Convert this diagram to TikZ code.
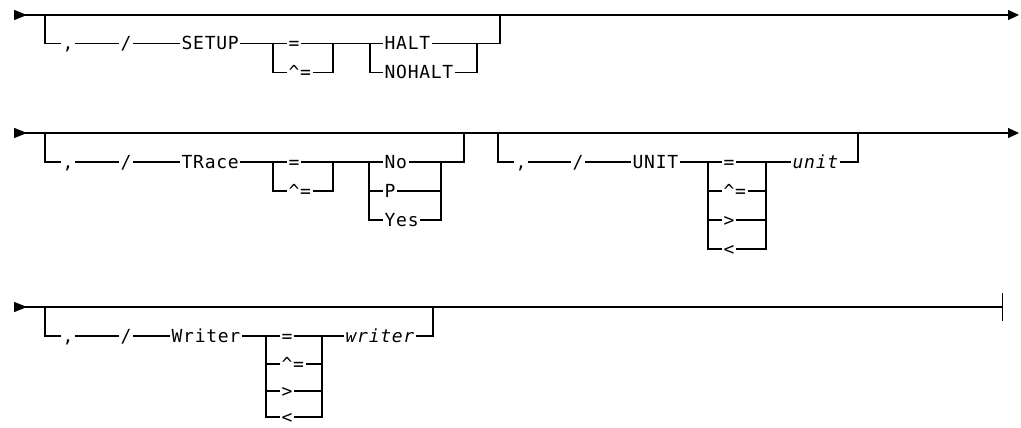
\documentclass[tikz,border=0pt]{standalone}
\usepackage{fontspec}
\newfontfamily\rrfont{DejaVu Sans Mono}[LetterSpace=4]
\usetikzlibrary{arrows.meta}

\begin{document}
\begin{tikzpicture}[
  x=1pt, y=-1pt, font=\rrfont\fontsize{18}{18}\selectfont,
  rail/.style ={draw,line width=1.1pt},
  row/.style  ={rail,{Triangle[reversed,length=13pt,width=10pt]}-{Triangle[length=11pt,width=10pt]}},
  last/.style ={rail,{Triangle[reversed,length=13pt,width=10pt]}-{Bar[width=28pt]}},
  tok/.style  ={inner xsep=1.5pt,inner ysep=0pt,text height=13pt,text depth=0pt,anchor=west},
  punct/.style={tok,anchor=center},
  var/.style  ={tok,font=\rrfont\fontsize{18}{18}\selectfont\itshape},
]
\useasboundingbox (0,0) rectangle (1021,428);

% ----------------------------------------------------------- SETUP
\coordinate (s1) at (14,15);
\coordinate (e1) at (1019,15);
\draw[row] (s1) -- (e1);
\coordinate (a1) at (45,15);
\node[punct] (cm1) at (68,43.5) {,};
\node[punct] (sl1) at (126,43.5) {/};
\node[tok] (kw1) at (180,43.5) {SETUP};
\coordinate (p1) at (273,43.5);
\coordinate (q1) at (333,43.5);
\node[tok] (o1a) at (287,43.5) {=};
\node[tok] (o1b) at (287,72.5) {\textasciicircum=};
\coordinate (u1) at (370,43.5);
\coordinate (v1) at (477,43.5);
\node[tok] (h1a) at (383,43.5) {HALT};
\node[tok] (h1b) at (383,72.5) {NOHALT};
\coordinate (z1) at (500,43.5);
\coordinate (w1) at (500,15);
\draw[rail] (a1) |- (cm1) -- (sl1) -- (kw1) -- (o1a) -- (h1a) -- (z1) -- (w1);
\draw[rail] (p1) |- (o1b) -| (q1);
\draw[rail] (u1) |- (h1b) -| (v1);

% ----------------------------------------------------------- TRace, UNIT
\coordinate (s2) at (14,133);
\coordinate (e2) at (1019,133);
\draw[row] (s2) -- (e2);
\coordinate (a2) at (45,133);
\node[punct] (cm2) at (68,162) {,};
\node[punct] (sl2) at (126,162) {/};
\node[tok] (kw2) at (180,162) {TRace};
\coordinate (p2) at (273,162);
\coordinate (q2) at (333,162);
\node[tok] (o2a) at (287,162) {=};
\node[tok] (o2b) at (287,191) {\textasciicircum=};
\coordinate (u2) at (369,162);
\coordinate (v2) at (441,162);
\node[tok] (n2a) at (383,162) {No};
\node[tok] (n2b) at (383,191) {P};
\node[tok] (n2c) at (383,220) {Yes};
\coordinate (z2) at (464,162);
\coordinate (w2) at (464,133);
\draw[rail] (a2) |- (cm2) -- (sl2) -- (kw2) -- (o2a) -- (n2a) -- (z2) -- (w2);
\draw[rail] (p2) |- (o2b) -| (q2);
\draw[rail] (u2) |- (n2c) -| (v2);
\draw[rail] (u2 |- n2b) -- (n2b) -- (v2 |- n2b);

\coordinate (a3) at (498,133);
\node[punct] (cm3) at (521,162) {,};
\node[punct] (sl3) at (578,162) {/};
\node[tok] (kw3) at (631,162) {UNIT};
\coordinate (p3) at (708,162);
\coordinate (q3) at (766,162);
\node[tok] (o3a) at (722,162) {=};
\node[tok] (o3b) at (722,191) {\textasciicircum=};
\node[tok] (o3c) at (722,220) {>};
\node[tok] (o3d) at (722,249) {<};
\node[var] (vr3) at (791,162) {unit};
\coordinate (z3) at (858,162);
\coordinate (w3) at (858,133);
\draw[rail] (a3) |- (cm3) -- (sl3) -- (kw3) -- (o3a) -- (vr3) -- (z3) -- (w3);
\draw[rail] (p3) |- (o3d) -| (q3);
\foreach \o in {o3b,o3c} { \draw[rail] (p3 |- \o) -- (\o) -- (q3 |- \o); }

% ----------------------------------------------------------- Writer
\coordinate (s4) at (14,307);
\coordinate (e4) at (1003,307);
\draw[last] (s4) -- (e4);
\coordinate (a4) at (45,307);
\node[punct] (cm4) at (68,336) {,};
\node[punct] (sl4) at (126,336) {/};
\node[tok] (kw4) at (170,336) {Writer};
\coordinate (p4) at (266,336);
\coordinate (q4) at (322,336);
\node[tok] (o4a) at (280,336) {=};
\node[tok] (o4b) at (280,364) {\textasciicircum=};
\node[tok] (o4c) at (280,391) {>};
\node[tok] (o4d) at (280,417) {<};
\node[var] (vr4) at (344,336) {writer};
\coordinate (z4) at (433,336);
\coordinate (w4) at (433,307);
\draw[rail] (a4) |- (cm4) -- (sl4) -- (kw4) -- (o4a) -- (vr4) -- (z4) -- (w4);
\draw[rail] (p4) |- (o4d) -| (q4);
\foreach \o in {o4b,o4c} { \draw[rail] (p4 |- \o) -- (\o) -- (q4 |- \o); }

\end{tikzpicture}
\end{document}
